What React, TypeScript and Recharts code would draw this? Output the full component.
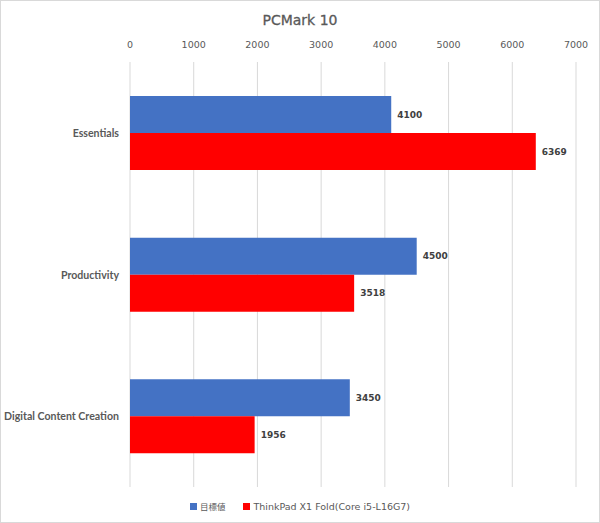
import React from 'react';
import { BarChart, Bar, XAxis, YAxis, CartesianGrid, LabelList } from 'recharts';

// Data
const categories = ['Essentials', 'Productivity', 'Digital Content Creation'];
const targetValues = [4100, 4500, 3450];
const foldValues = [6369, 3518, 1956];
const xTicks = [0, 1000, 2000, 3000, 4000, 5000, 6000, 7000];

const SERIES = [
  { key: 'target', name: '目標値', color: '#4472C4' },
  { key: 'fold', name: 'ThinkPad X1 Fold(Core i5-L16G7)', color: '#FF0000' },
];

const data = categories.map((name, i) => ({
  name,
  target: targetValues[i],
  fold: foldValues[i],
}));

const FONT = '"DejaVu Sans", Verdana, sans-serif';

// single-line category label, right aligned against the plot
const CategoryTick = (props: any) => {
  const { x, y, payload } = props;
  return (
    <text
      x={x}
      y={y}
      dx={5}
      dy={4}
      textAnchor="end"
      fontFamily="Lato, sans-serif"
      fontSize={10.6}
      fontWeight={700}
      fill="#595959"
    >
      {payload.value}
    </text>
  );
};

const App: React.FC = () => {
  return (
    <div
      style={{
        position: 'absolute',
        left: 0,
        top: 0,
        width: 600,
        height: 523,
        boxSizing: 'border-box',
        border: '1px solid #d9d9d9',
        background: '#fff',
      }}
    >
      <div
        style={{
          position: 'absolute',
          top: 11,
          left: 0,
          width: '100%',
          textAlign: 'center',
          fontFamily: FONT,
          fontSize: 14,
          color: '#595959',
          WebkitTextStroke: '0.3px #595959',
        }}
      >
        PCMark 10
      </div>
      <div style={{ position: 'absolute', left: -1, top: -1 }}>
        <BarChart
          width={600}
          height={523}
          data={data}
          layout="vertical"
          margin={{ top: 32, right: 24, bottom: 36, left: 0 }}
          barCategoryGap="24%"
          barGap={0}
        >
          <CartesianGrid horizontal={false} stroke="#d9d9d9" />
          <XAxis
            type="number"
            orientation="top"
            domain={[0, 7000]}
            ticks={xTicks}
            axisLine={false}
            tickLine={false}
            height={30}
            tick={{ fontFamily: FONT, fontSize: 9.5, fill: '#595959' }}
            tickMargin={8}
          />
          <YAxis
            type="category"
            dataKey="name"
            width={130}
            axisLine={false}
            tickLine={false}
            tick={<CategoryTick />}
            tickMargin={10}
          />
          {SERIES.map((s) => (
            <Bar key={s.key} dataKey={s.key} name={s.name} fill={s.color} isAnimationActive={false}>
              <LabelList
                dataKey={s.key}
                position="right"
                offset={6}
                style={{ fontFamily: FONT, fontSize: 9, fontWeight: 700, fill: '#404040' }}
              />
            </Bar>
          ))}
        </BarChart>
      </div>
      <div
        style={{
          position: 'absolute',
          top: 499,
          left: 0,
          width: '100%',
          display: 'flex',
          justifyContent: 'center',
          alignItems: 'center',
          fontFamily: FONT,
          fontSize: 9.5,
          color: '#595959',
        }}
      >
        {SERIES.map((s, i) => (
          <div key={s.key} style={{ display: 'flex', alignItems: 'center', marginLeft: i === 0 ? 0 : 18 }}>
            <span style={{ display: 'inline-block', width: 7, height: 7, background: s.color, marginRight: 3 }} />
            <span
              style={{
                fontFamily: s.key === 'target' ? '"Noto Sans CJK JP", sans-serif' : FONT,
                fontSize: s.key === 'target' ? 8.5 : 9.5,
              }}
            >
              {s.name}
            </span>
          </div>
        ))}
      </div>
    </div>
  );
};

export default App;
